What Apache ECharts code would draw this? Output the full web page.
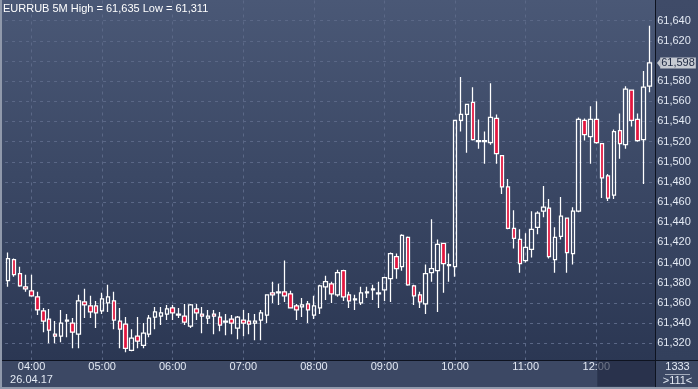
<!DOCTYPE html>
<html><head><meta charset="utf-8">
<script src="https://cdn.jsdelivr.net/npm/echarts@6/dist/echarts.min.js"></script>
<style>html,body{margin:0;padding:0;background:#3c4864;}#c{width:698px;height:389px;}</style>
</head><body><div id="c"></div>
<script>
// ---------- data ----------
const symbol = 'EURRUB';
const period = '5M';
const dateLabel = '26.04.17';
const startHour = 3, startMinute = 40, stepMinutes = 5;
const hourLabels = ['04:00','05:00','06:00','07:00','08:00','09:00','10:00','11:00','12:00'];
const footerTop = '1333';
const footerBottom = '>111<';

const opens = [61382,61403,61389,61376,61372,61366,61352,61344,61329,61327,
61342,61340,61329,61361,61357,61357,61352,61360,61362,61342,
61339,61313,61327,61318,61329,61346,61347,61349,61355,61348,
61347,61337,61354,61349,61345,61349,61346,61341,61344,61335,
61343,61342,61340,61343,61348,61370,61370,61371,61369,61357,
61356,61359,61348,61355,61376,61379,61368,61392,61368,61363,
61360,61370,61373,61369,61373,61384,61406,61396,61425,61377,
61368,61359,61390,61392,61419,61397,61396,61541,61547,61559,
61520,61520,61519,61543,61506,61475,61434,61423,61402,61413,
61435,61451,61454,61403,61426,61444,61409,61451,61541,61525,
61542,61518,61486,61467,61531,61517,61571,61542,61522,61575];
const closes = [61404,61388,61377,61374,61367,61353,61342,61333,61327,61340,
61343,61331,61362,61358,61351,61350,61364,61366,61343,61334,
61315,61325,61322,61330,61345,61351,61350,61354,61350,61349,
61341,61358,61350,61347,61347,61347,61338,61342,61340,61346,
61340,61339,61342,61350,61368,61368,61371,61367,61355,61353,
61358,61353,61357,61377,61381,61369,61390,61366,61362,61364,
61370,61371,61374,61370,61385,61409,61394,61427,61378,61367,
61361,61389,61394,61418,61399,61398,61541,61547,61557,61522,
61521,61521,61544,61508,61475,61434,61424,61399,61415,61433,
61449,61455,61406,61425,61446,61410,61451,61542,61527,61542,
61519,61484,61464,61530,61518,61572,61541,61521,61574,61598];
const lows = [61376,61386,61376,61371,61366,61348,61331,61320,61320,61321,
61326,61315,61315,61345,61345,61335,61349,61351,61334,61315,
61311,61312,61315,61315,61326,61334,61338,61343,61343,61345,
61338,61335,61343,61330,61339,61329,61332,61328,61329,61324,
61327,61329,61323,61323,61340,61360,61358,61361,61355,61343,
61346,61340,61344,61349,61363,61360,61366,61362,61355,61353,
61358,61365,61363,61355,61362,61361,61384,61392,61377,61358,
61355,61349,61381,61351,61370,61381,61386,61530,61509,61521,
61513,61498,61517,61498,61468,61433,61414,61390,61400,61405,
61428,61445,61404,61390,61423,61390,61398,61450,61521,61498,
61518,61464,61461,61463,61503,61513,61535,61520,61478,61569];
const highs = [61410,61404,61396,61388,61388,61371,61355,61354,61342,61353,
61349,61345,61368,61374,61367,61362,61370,61378,61371,61355,
61346,61334,61346,61340,61348,61356,61356,61358,61358,61355,
61359,61359,61359,61356,61353,61353,61351,61349,61348,61347,
61353,61350,61349,61353,61368,61381,61379,61402,61372,61359,
61365,61362,61367,61378,61387,61381,61393,61393,61371,61368,
61376,61376,61378,61381,61386,61410,61409,61428,61426,61378,
61371,61398,61443,61423,61419,61409,61541,61584,61557,61574,
61542,61530,61578,61547,61506,61483,61452,61433,61429,61451,
61451,61476,61463,61435,61465,61444,61455,61544,61543,61555,
61560,61518,61488,61532,61548,61575,61571,61548,61590,61635];

// ---------- derived ----------
const pad2 = n => String(n).padStart(2, '0');
const times = opens.map((_, i) => {
  const m = startHour * 60 + startMinute + i * stepMinutes;
  return pad2(Math.floor(m / 60)) + ':' + pad2(m % 60);
});
const fmtPrice = v => { const s = String(Math.round(v)); return s.slice(0, s.length - 3) + ',' + s.slice(-3); };
const candles = opens.map((o, i) => [o, closes[i], lows[i], highs[i]]);
const lastClose = closes[closes.length - 1];
const hi = Math.max.apply(null, highs), lo = Math.min.apply(null, lows);

const FONT = '"Liberation Sans Narrow", "Liberation Sans", Arial, sans-serif';
const TXT = '#e3e9f3';
const GRIDLINE = { type: [3, 4], color: '#5b6887', width: 1 };

const chart = echarts.init(document.getElementById('c'), null, { renderer: 'canvas' });
chart.setOption({
  animation: false,
  backgroundColor: '#3c4864',
  title: {
    text: `${symbol} ${period} High = ${fmtPrice(hi)} Low = ${fmtPrice(lo)}`,
    left: 3, top: 3, padding: 0,
    textStyle: { color: '#ffffff', fontSize: 11, fontWeight: 'normal', fontFamily: FONT, lineHeight: 12 }
  },
  grid: { left: 5.06, right: 45.8, top: 0.5, bottom: 25.6 },
  xAxis: [
    {
      type: 'category', data: times, boundaryGap: true, z: 0,
      axisLine: { show: false }, axisTick: { show: false }, axisLabel: { show: false },
      splitLine: { show: true, alignWithLabel: true, interval: (i, v) => hourLabels.includes(v), lineStyle: GRIDLINE }
    },
    {
      type: 'category', data: times, boundaryGap: true, position: 'bottom', z: 20,
      axisLine: { show: false }, axisTick: { show: false }, splitLine: { show: false },
      axisLabel: {
        interval: (i, v) => hourLabels.includes(v),
        formatter: v => v === hourLabels[0] ? v + '\n' + dateLabel : v,
        color: TXT, fontSize: 11, fontFamily: FONT, lineHeight: 13, margin: -2.5
      }
    }
  ],
  yAxis: {
    type: 'value', position: 'right', min: 61300, max: 61660, interval: 20, scale: true,
    axisLine: { show: false }, axisTick: { show: false },
    splitLine: { show: true, showMinLine: false, showMaxLine: false, lineStyle: GRIDLINE },
    axisLabel: {
      showMinLabel: false, showMaxLabel: false, margin: 5,
      color: TXT, fontSize: 11, fontFamily: FONT,
      formatter: v => Math.abs(v - lastClose) < 10 ? '' : fmtPrice(v)
    }
  },
  series: [{
    type: 'candlestick', xAxisIndex: 0, yAxisIndex: 0,
    data: candles, barWidth: 4,
    itemStyle: { color: 'rgba(0,0,0,0)', color0: '#e3163f', borderColor: '#ffffff', borderColor0: '#ffffff', borderWidth: 1.25 },
    markLine: {
      silent: true, symbol: ['none', 'none'], animation: false,
      lineStyle: { color: 'rgba(0,0,0,0)', width: 0 },
      label: {
        show: true, position: 'end', distance: 8,
        formatter: () => fmtPrice(lastClose),
        backgroundColor: '#c6cad2', color: '#1d2842', fontSize: 11, fontFamily: FONT,
        lineHeight: 11, padding: [0, 1, 0, 1]
      },
      data: [{ yAxis: lastClose }]
    }
  }]
});

// ---------- frame decorations (positions derived from the axes) ----------
const plotRight = 655.5, plotBottom = 360.5;
const xNoon = chart.convertToPixel({ xAxisIndex: 0 }, hourLabels[hourLabels.length - 1]);
const yLast = chart.convertToPixel({ yAxisIndex: 0 }, lastClose);
chart.setOption({
  graphic: [
    { type: 'rect', z: -10, silent: true, shape: { x: 0, y: 0, width: plotRight, height: plotBottom },
      style: { fill: new echarts.graphic.LinearGradient(0, 0, 0, 1, [{ offset: 0, color: '#4a5876' }, { offset: 1, color: '#2b3753' }]) } },
    { type: 'rect', z: -10, silent: true, shape: { x: plotRight, y: 0, width: 698 - plotRight, height: plotBottom },
      style: { fill: new echarts.graphic.LinearGradient(0, 0, 0, 1, [{ offset: 0, color: '#3f4b68' }, { offset: 1, color: '#33405c' }]) } },
    { type: 'rect', z: 10, silent: true, shape: { x: 0, y: plotBottom, width: 698, height: 389 - plotBottom },
      style: { fill: '#3c4864' } },
    { type: 'rect', z: 30, silent: true, shape: { x: xNoon + 1, y: plotBottom + 0.5, width: plotRight - xNoon - 1, height: 389 - plotBottom - 3 },
      style: { fill: 'rgba(28,36,60,0.6)' } },
    { type: 'line', z: 50, silent: true, shape: { x1: plotRight, y1: 0, x2: plotRight, y2: 389 }, style: { stroke: '#0e1320', lineWidth: 1 } },
    { type: 'line', z: 50, silent: true, shape: { x1: 0, y1: plotBottom, x2: 698, y2: plotBottom }, style: { stroke: '#0e1320', lineWidth: 1 } },
    { type: 'line', z: 60, silent: true, shape: { x1: 1, y1: 0, x2: 1, y2: 389 }, style: { stroke: '#9099ab', lineWidth: 2 } },
    { type: 'line', z: 60, silent: true, shape: { x1: 0, y1: 388, x2: 698, y2: 388 }, style: { stroke: '#9099ab', lineWidth: 2 } },
    { type: 'polygon', z: 40, silent: true, shape: { points: [[657, yLast], [660.5, yLast - 4.5], [660.5, yLast + 4.5]] }, style: { fill: '#c6cad2' } },
    { type: 'text', z: 60, silent: true, x: 677.5, y: 367.3,
      style: { text: footerTop, fill: TXT, font: '11px ' + FONT, align: 'center', verticalAlign: 'middle' } },
    { type: 'line', z: 60, silent: true, shape: { x1: 665, y1: 374.5, x2: 690, y2: 374.5 }, style: { stroke: '#a3abbb', lineWidth: 1 } },
    { type: 'text', z: 60, silent: true, x: 677.5, y: 381,
      style: { text: footerBottom, fill: TXT, font: '11px ' + FONT, align: 'center', verticalAlign: 'middle' } }
  ]
});
</script></body></html>
